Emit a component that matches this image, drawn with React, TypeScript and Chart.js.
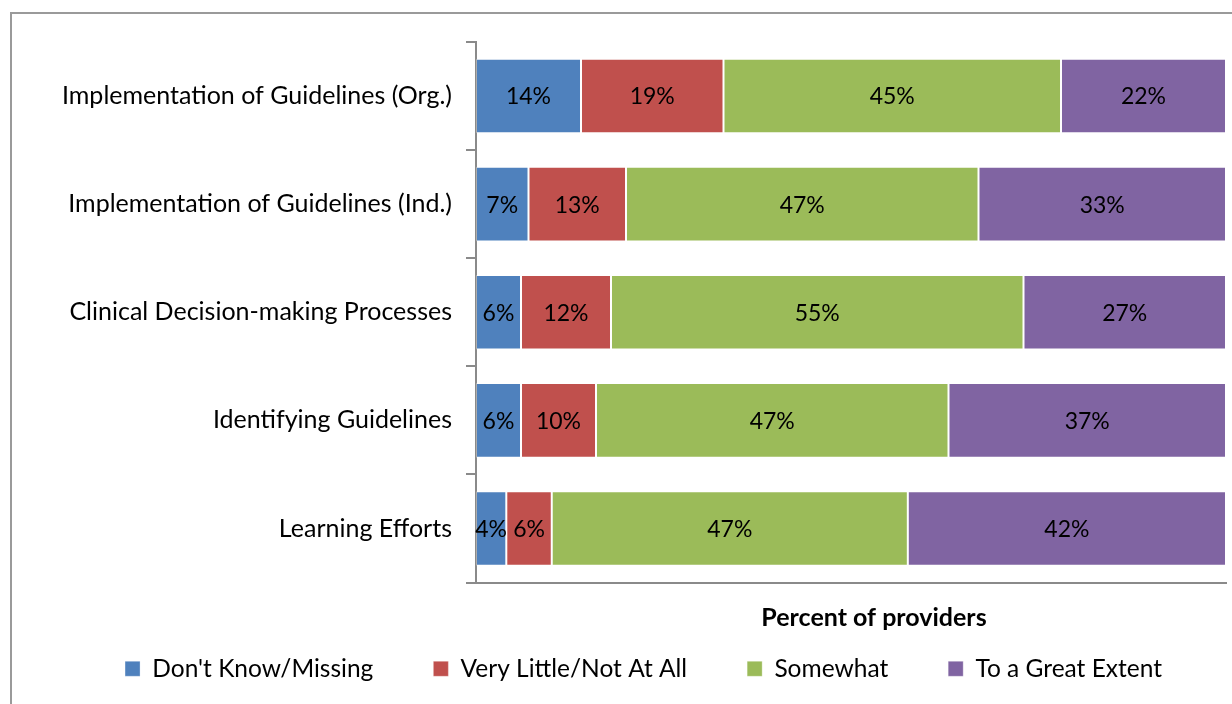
import React, { useEffect, useRef } from "react";
import { Chart, registerables } from "chart.js";

Chart.register(...registerables);

const categories = [
  "Implementation of Guidelines (Org.)",
  "Implementation of Guidelines (Ind.)",
  "Clinical Decision-making Processes",
  "Identifying Guidelines",
  "Learning Efforts",
];
const seriesNames = [
  "Don't Know/Missing",
  "Very Little/Not At All",
  "Somewhat",
  "To a Great Extent",
];
const dontKnow = [14, 7, 6, 6, 4];
const veryLittle = [19, 13, 12, 10, 6];
const somewhat = [45, 47, 55, 47, 47];
const greatExtent = [22, 33, 27, 37, 42];
const xAxisTitle = "Percent of providers";
const seriesColors = ["#4F81BD", "#C0504D", "#9BBB59", "#8064A2"];

const FONT = "Lato";

export default function App() {
  const ref = useRef<HTMLCanvasElement | null>(null);

  useEffect(() => {
    const canvas = ref.current;
    if (!canvas) return;
    const series = [dontKnow, veryLittle, somewhat, greatExtent];
    const totals = categories.map((_, i) =>
      series.reduce((s, arr) => s + arr[i], 0)
    );

    const segLabels = {
      id: "segLabels",
      afterDatasetsDraw(chart: any) {
        const ctx = chart.ctx;
        ctx.save();
        ctx.font = `23px ${FONT}`;
        ctx.fillStyle = "#000";
        ctx.textAlign = "center";
        ctx.textBaseline = "middle";
        chart.data.datasets.forEach((_: any, di: number) => {
          const meta = chart.getDatasetMeta(di);
          meta.data.forEach((el: any, i: number) => {
            const p = el.getProps(["x", "y", "base"], true);
            ctx.fillText(series[di][i] + "%", (p.x + p.base) / 2, p.y + 1);
          });
        });
        ctx.restore();
      },
    };

    const axisTitle = {
      id: "axisTitle",
      afterDraw(chart: any) {
        const { ctx, chartArea } = chart;
        ctx.save();
        ctx.font = `bold 25px ${FONT}`;
        ctx.fillStyle = "#000";
        ctx.textAlign = "center";
        ctx.textBaseline = "middle";
        ctx.fillText(
          xAxisTitle,
          (chartArea.left + chartArea.right) / 2 + 23,
          chartArea.bottom + 35
        );
        ctx.restore();
      },
    };

    const padLeft = 61;

    const chart = new Chart(canvas, {
      type: "bar",
      data: {
        labels: categories,
        datasets: series.map((arr, di) => ({
          label: seriesNames[di],
          data: arr.map((v, i) => (v / totals[i]) * 100),
          backgroundColor: seriesColors[di],
          borderColor: "rgba(255,255,255,0.3)",
          borderWidth: 1,
          borderSkipped: false,
          categoryPercentage: 1,
          barPercentage: 0.69,
        })),
      },
      options: {
        indexAxis: "y",
        responsive: false,
        animation: false,
        layout: { padding: { left: padLeft, right: 6, top: 42, bottom: 13 } },
        scales: {
          x: {
            stacked: true,
            min: 0,
            max: 100,
            ticks: { display: false },
            grid: { display: false },
            border: { display: true, color: "#8a8a8a", width: 2 },
            afterFit: (s: any) => {
              s.height = 14;
            },
          },
          y: {
            stacked: true,
            ticks: {
              color: "#000",
              padding: 14,
              font: { family: FONT, size: 25 },
            },
            grid: {
              drawOnChartArea: false,
              drawTicks: true,
              tickLength: 10,
              color: "#8a8a8a",
              lineWidth: 2,
            },
            border: { display: true, color: "#8a8a8a", width: 2 },
            afterFit: (s: any) => {
              s.width = 476 - padLeft;
            },
          },
        },
        plugins: {
          legend: {
            position: "bottom",
            labels: {
              boxWidth: 15,
              boxHeight: 15,
              padding: 60,
              color: "#000",
              font: { family: FONT, size: 24.5 },
            },
          },
          tooltip: { enabled: false },
        },
      },
      plugins: [segLabels, axisTitle],
    });

    return () => chart.destroy();
  }, []);

  return (
    <div
      style={{
        position: "fixed",
        left: 0,
        top: 0,
        width: 1232,
        height: 704,
        overflow: "hidden",
        background: "#fff",
      }}
    >
      <div
        style={{
          position: "absolute",
          left: 10,
          top: 12,
          width: 1400,
          height: 900,
          border: "2px solid #9a9a9a",
        }}
      />
      <canvas
        ref={ref}
        width={1232}
        height={704}
        style={{ position: "absolute", left: 0, top: 0 }}
      />
    </div>
  );
}
